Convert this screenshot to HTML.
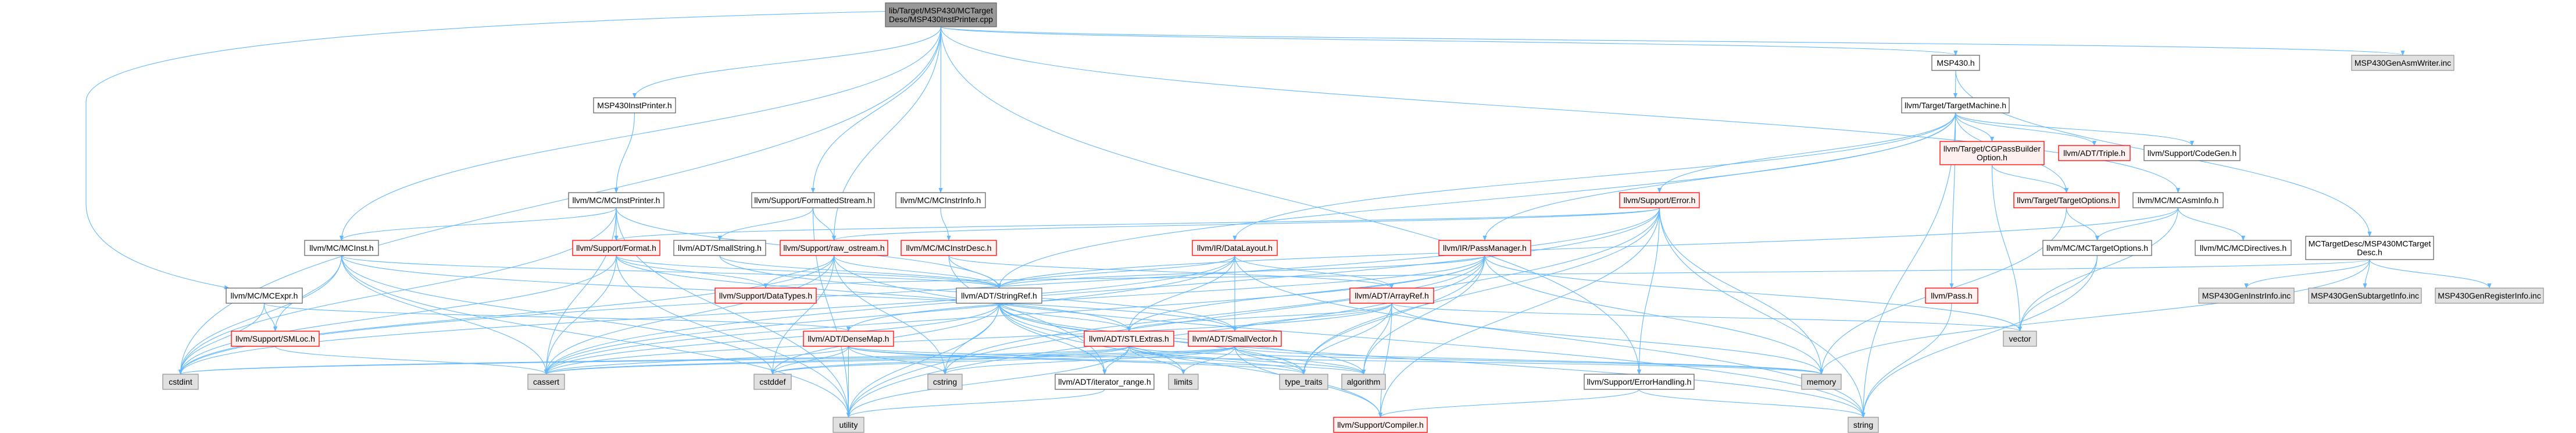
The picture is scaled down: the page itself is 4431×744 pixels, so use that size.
<!DOCTYPE html>
<html><head><meta charset="utf-8">
<style>
html,body{margin:0;padding:0;background:#fff;width:4431px;height:744px;overflow:hidden}
svg text{font-family:"Liberation Sans",Arial,sans-serif;font-size:14px;fill:#000}
</style></head>
<body>
<svg id="g" xmlns="http://www.w3.org/2000/svg" width="4431" height="744" viewBox="0 0 4431 744">
<defs>
<marker id="ah" viewBox="0 0 10 10" refX="9" refY="5" markerWidth="9" markerHeight="9" orient="auto" markerUnits="userSpaceOnUse"><path d="M0,1 L10,5 L0,9 z" fill="#63b8ff"/></marker>
</defs>
<g id="edges"></g>
<g id="nodes"></g>
</svg>
<script>
const nodeIds = ["root","instprinterh","mcinstprinter","mcinst","format","mcexpr","smloc","cstdint","cassert","fstream","mcinstrinfo","smallstring","rawostream","mcinstrdesc","datalayout","datatypes","stringref","densemap","stlextras","smallvector","cstddef","cstring","iterrange","limits","typetraits","utility","error","passmanager","arrayref","algorithm","errhandling","memory","compiler","string","targetmachine","msp430h","genasmwriter","cgpass","triple","codegen","targetoptions","mcasminfo","mctargetoptions","mcdirectives","mctargetdesc","pass","geninstrinfo","gensubtarget","genregister","vector"];
const nodeLabels = [["lib/Target/MSP430/MCTarget","Desc/MSP430InstPrinter.cpp"],["MSP430InstPrinter.h"],["llvm/MC/MCInstPrinter.h"],["llvm/MC/MCInst.h"],["llvm/Support/Format.h"],["llvm/MC/MCExpr.h"],["llvm/Support/SMLoc.h"],["cstdint"],["cassert"],["llvm/Support/FormattedStream.h"],["llvm/MC/MCInstrInfo.h"],["llvm/ADT/SmallString.h"],["llvm/Support/raw_ostream.h"],["llvm/MC/MCInstrDesc.h"],["llvm/IR/DataLayout.h"],["llvm/Support/DataTypes.h"],["llvm/ADT/StringRef.h"],["llvm/ADT/DenseMap.h"],["llvm/ADT/STLExtras.h"],["llvm/ADT/SmallVector.h"],["cstddef"],["cstring"],["llvm/ADT/iterator_range.h"],["limits"],["type_traits"],["utility"],["llvm/Support/Error.h"],["llvm/IR/PassManager.h"],["llvm/ADT/ArrayRef.h"],["algorithm"],["llvm/Support/ErrorHandling.h"],["memory"],["llvm/Support/Compiler.h"],["string"],["llvm/Target/TargetMachine.h"],["MSP430.h"],["MSP430GenAsmWriter.inc"],["llvm/Target/CGPassBuilder","Option.h"],["llvm/ADT/Triple.h"],["llvm/Support/CodeGen.h"],["llvm/Target/TargetOptions.h"],["llvm/MC/MCAsmInfo.h"],["llvm/MC/MCTargetOptions.h"],["llvm/MC/MCDirectives.h"],["MCTargetDesc/MSP430MCTarget","Desc.h"],["llvm/Pass.h"],["MSP430GenInstrInfo.inc"],["MSP430GenSubtargetInfo.inc"],["MSP430GenRegisterInfo.inc"],["vector"]];
const nodeBoxes = [[1523,1714,5,46],[1021,1162,168,194],[978,1142,331,357],[524,651,413,439],[985,1135,413,439],[389,520,495,521],[398,549,569,595],[280,341,643,669],[908,971,643,669],[1293,1504,331,357],[1541,1695,331,357],[1159,1317,413,439],[1342,1527,413,439],[1550,1714,413,439],[2051,2197,413,439],[1230,1404,495,521],[1645,1792,495,521],[1382,1537,569,595],[1865,2019,569,595],[2044,2204,569,595],[1297,1361,643,669],[1596,1655,643,669],[1815,1985,643,669],[2010,2061,643,669],[2201,2284,643,669],[1433,1486,717,743],[2786,2923,331,357],[2475,2633,413,439],[2322,2466,495,521],[2308,2383,643,669],[2725,2914,643,669],[3099,3167,643,669],[2294,2455,717,743],[3179,3231,717,743],[3271,3456,168,194],[3323,3405,95,121],[4045,4221,95,121],[3337,3516,243,283],[3541,3664,250,276],[3688,3853,250,276],[3464,3645,331,357],[3669,3824,331,357],[3514,3701,413,439],[3776,3941,413,439],[3966,4186,406,446],[3312,3402,495,521],[3782,3946,495,521],[3971,4165,495,521],[4189,4375,495,521],[3446,3503,569,595]];
const nodeKinds = ["root","white","white","white","red","white","red","gray","gray","white","white","white","red","red","red","red","white","red","red","red","gray","gray","white","gray","gray","gray","red","red","red","gray","white","gray","red","gray","white","white","gray","red","red","white","red","white","white","white","white","red","gray","gray","gray","gray"];
const edgeFrom = ["root","root","root","root","root","root","root","root","root","root","root","instprinterh","mcinstprinter","mcinstprinter","mcinstprinter","mcinstprinter","mcinstprinter","mcinstprinter","mcinst","mcinst","mcinst","mcinst","mcinst","mcinst","mcinst","mcexpr","mcexpr","mcexpr","smloc","format","format","format","format","format","format","fstream","fstream","fstream","smallstring","smallstring","rawostream","rawostream","rawostream","rawostream","rawostream","rawostream","rawostream","mcinstrinfo","mcinstrdesc","mcinstrdesc","mcinstrdesc","datalayout","datalayout","datalayout","datalayout","datalayout","datalayout","datalayout","stringref","stringref","stringref","stringref","stringref","stringref","stringref","stringref","stringref","stringref","stringref","densemap","densemap","densemap","densemap","densemap","densemap","densemap","stlextras","stlextras","stlextras","stlextras","stlextras","stlextras","stlextras","stlextras","stlextras","smallvector","smallvector","smallvector","smallvector","smallvector","smallvector","smallvector","smallvector","smallvector","arrayref","arrayref","arrayref","arrayref","arrayref","arrayref","arrayref","arrayref","error","error","error","error","error","error","error","error","error","error","passmanager","passmanager","passmanager","passmanager","passmanager","passmanager","passmanager","passmanager","passmanager","passmanager","errhandling","errhandling","iterrange","targetmachine","targetmachine","targetmachine","targetmachine","targetmachine","targetmachine","targetmachine","targetmachine","targetmachine","targetmachine","cgpass","cgpass","targetoptions","targetoptions","mcasminfo","mcasminfo","mcasminfo","mcasminfo","mctargetoptions","mctargetoptions","msp430h","msp430h","mctargetdesc","mctargetdesc","mctargetdesc","mctargetdesc","mctargetdesc","pass"];
const edgeTo = ["instprinterh","mcexpr","fstream","mcinstrinfo","msp430h","genasmwriter","mcasminfo","errhandling","mcinst","rawostream","cstdint","mcinstprinter","format","mcinst","cstdint","utility","cassert","stringref","smloc","cstdint","cassert","cstddef","stringref","smallvector","utility","smloc","cstdint","densemap","cassert","stringref","stlextras","datatypes","cassert","cstdint","utility","smallstring","rawostream","utility","stringref","smallvector","datatypes","stringref","cassert","cstddef","cstdint","cstring","string","mcinstrdesc","arrayref","stringref","iterrange","stringref","smallvector","arrayref","stlextras","cassert","cstdint","string","stlextras","iterrange","compiler","algorithm","cassert","cstddef","cstring","limits","string","typetraits","utility","cassert","cstddef","cstring","utility","algorithm","typetraits","memory","iterrange","algorithm","cassert","cstddef","cstdint","limits","memory","typetraits","utility","compiler","algorithm","cassert","cstddef","cstdint","limits","memory","typetraits","cstring","smallvector","stlextras","compiler","algorithm","cassert","memory","typetraits","vector","errhandling","compiler","rawostream","format","cassert","cstdint","memory","string","utility","typetraits","densemap","stlextras","stringref","algorithm","cassert","cstring","memory","typetraits","utility","vector","compiler","string","utility","triple","cgpass","targetoptions","codegen","error","passmanager","datalayout","stringref","pass","string","targetoptions","vector","mctargetoptions","memory","mcdirectives","mctargetoptions","vector","stringref","string","vector","targetmachine","mctargetdesc","geninstrinfo","gensubtarget","genregister","memory","datatypes","string"];

const NS = "http://www.w3.org/2000/svg";
const eg = document.getElementById("edges");
const ng = document.getElementById("nodes");
const box = {};
nodeIds.forEach((id, i) => { const b = nodeBoxes[i]; box[id] = {x1:b[0], x2:b[1], y1:b[2], y2:b[3]}; });

function edgePath(f, t, a, b) {
  const ax = (a.x1 + a.x2) / 2, bx = (b.x1 + b.x2) / 2;
  if (f === "root" && t === "mcexpr") {
    const sy = (a.y1 + a.y2) / 2 - 6;
    const ty = b.y1;
    const tx = b.x1 + 5;
    return `M${a.x1},${sy} C700,40 148,80 148,175 L148,350 C148,430 260,470 ${tx},${ty}`;
  }
  if (b.y1 > a.y2 + 4) {
    const sy = a.y2, ty = b.y1;
    const h = ty - sy;
    return `M${ax},${sy} C${ax},${sy + h * 0.5} ${bx},${ty - h * 0.5} ${bx},${ty}`;
  }
  const leftward = bx < ax;
  const sx = leftward ? a.x1 : a.x2;
  const sy = (a.y1 + a.y2) / 2;
  const tx = leftward ? b.x2 : b.x1;
  const ty = (b.y1 + b.y2) / 2;
  const dx = (tx - sx) * 0.5;
  return `M${sx},${sy} C${sx + dx},${sy} ${tx - dx},${ty} ${tx},${ty}`;
}

edgeFrom.forEach((f, i) => {
  const t = edgeTo[i];
  const p = document.createElementNS(NS, "path");
  p.setAttribute("d", edgePath(f, t, box[f], box[t]));
  p.setAttribute("fill", "none");
  p.setAttribute("stroke", "#63b8ff");
  p.setAttribute("stroke-width", "1.1");
  p.setAttribute("marker-end", "url(#ah)");
  
  
  eg.appendChild(p);
});

const fills = {root:"#999999", white:"#ffffff", red:"#fff0f0", gray:"#e0e0e0"};
const strokes = {root:"#666666", white:"#666666", red:"#ff0000", gray:"#999999"};
nodeIds.forEach((id, i) => {
  const b = box[id], k = nodeKinds[i];
  const g = document.createElementNS(NS, "g");
  
  
  const r = document.createElementNS(NS, "rect");
  r.setAttribute("x", b.x1); r.setAttribute("y", b.y1);
  r.setAttribute("width", b.x2 - b.x1); r.setAttribute("height", b.y2 - b.y1);
  r.setAttribute("fill", fills[k]); r.setAttribute("stroke", strokes[k]); r.setAttribute("stroke-width", "1.3");
  g.appendChild(r);
  const lines = nodeLabels[i];
  const cx = (b.x1 + b.x2) / 2, cy = (b.y1 + b.y2) / 2;
  lines.forEach((ln, j) => {
    const t = document.createElementNS(NS, "text");
    t.setAttribute("x", cx);
    t.setAttribute("y", cy + 5 + (j - (lines.length - 1) / 2) * 15);
    t.setAttribute("text-anchor", "middle");
    t.textContent = ln;
    g.appendChild(t);
  });
  ng.appendChild(g);
});
</script>
</body></html>
